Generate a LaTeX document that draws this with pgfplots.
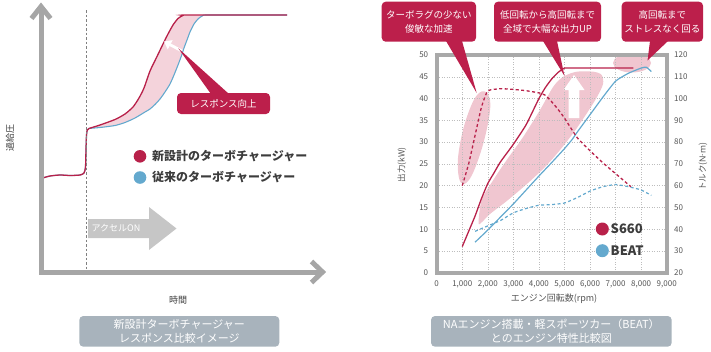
\documentclass[border=0pt]{standalone}
\usepackage{pgfplots}
\pgfplotsset{compat=1.18}
\usetikzlibrary{arrows.meta}
\usepackage{fontspec}
\setmainfont{Noto Sans CJK JP}
\newfontfamily\latinfont{Noto Sans}
\definecolor{cred}{HTML}{BC1F4B}
\definecolor{lred}{HTML}{B8214A}
\definecolor{cblue}{HTML}{64A9CE}
\definecolor{pinkA}{HTML}{F4D3DB}
\definecolor{pinkB}{HTML}{F0C6D0}
\definecolor{agray}{HTML}{A6A6A6}
\definecolor{fgray}{HTML}{A9A9A9}
\definecolor{ggray}{HTML}{BDBDBD}
\definecolor{capbox}{HTML}{A8B3BC}
\definecolor{tgray}{HTML}{555555}
\definecolor{dgray}{HTML}{3C3C3C}
\definecolor{arrgray}{HTML}{C6C6C6}
\pgfplotsset{pixframe/.style={at={(0pt,0pt)}, anchor=south west, scale only axis,
  width=711pt, height=351pt, xmin=0, xmax=711, ymin=0, ymax=351, y dir=reverse,
  hide axis, clip=false}}
\pgfplotsset{rbase/.style={at={(436.7pt,78.3pt)}, anchor=south west, scale only axis,
  width=230pt, height=217.7pt, xmin=0, xmax=9000,
  tick style={white, line width=0.8pt}, major tick length=2pt, tick align=outside,
  ticklabel style={font=\fontsize{8}{9}\selectfont, text=tgray},
  /pgf/number format/assume math mode=true, /pgf/number format/1000 sep={,},
  scaled x ticks=false, scaled y ticks=false}}
\begin{document}
\begin{tikzpicture}[x=1pt,y=1pt]
\path[use as bounding box] (0,0) rectangle (711,351);
% ---------- layer A ----------
\begin{axis}[pixframe]
% left panel: pink fill between curves
\addplot[draw=none, fill=pinkA, smooth, tension=0.4] coordinates {
 (89,128.5)(100,125)(115,119.5)(125,114)(133,107)(139,98)(144,88)(150,71)(157,56.5)(163,44)(168,34)(173,25)(178,18.5)(183,15.5)(188,15)
 (203,15.5)(198,19)(194,24)(190,32)(187,40)(184,48)(181,57)(178,65)(174,75)(170,84)(165,92)(160,99)(155,104.5)(150,109)(145,112)(135,118)(125,122.5)(115,125.5)(100,127.5)(89,128.5)} -- cycle;
\addplot[cblue, line width=1.1pt, smooth, tension=0.4] coordinates {
 (41.5,178.3)(50,176)(60,175)(70,175.5)(80,175)(84,173)(85.5,167)(86,150)(86.5,135)(87.3,130)(89,128.5)(100,127.5)(115,125.5)(125,122.5)(135,118)(145,112)(150,109)(155,104.5)(160,99)(165,92)(170,84)(174,75)(178,65)(181,57)(184,48)(187,40)(190,32)(194,24)(198,19)(203,15.5)(210,15)(287,15)};
\addplot[lred, line width=1.3pt, smooth, tension=0.4] coordinates {
 (41.5,178.3)(50,176)(60,175)(70,175.5)(80,175)(84,173)(85.5,167)(86,150)(86.5,135)(87.3,130)(89,128.5)(100,125)(115,119.5)(125,114)(133,107)(139,98)(144,88)(150,71)(157,56.5)(163,44)(168,34)(173,25)(178,18.5)(183,15.5)(188,15)(287,15)};
% dashed accelerator line
\draw[gray, line width=0.9pt, dash pattern=on 2.5pt off 2pt] (86,10) -- (86,270);
% axes arrows
\draw[agray, line width=5pt, line join=miter] (41,8) -- (41,272) -- (321,272);
\draw[agray, line width=5pt, line join=miter] (31.5,18.5) -- (41,6.5) -- (50.5,18.5);
\draw[agray, line width=5pt, line join=miter] (311.5,261.5) -- (322.5,272) -- (311.5,282.5);
% accel arrow
\fill[arrgray] (88,219) -- (149,219) -- (149,207) -- (176.5,228.5) -- (149,250) -- (149,238) -- (88,238) -- cycle;
\node[text=white, font=\fontsize{9}{10}\selectfont] at (116,228.5) {アクセルON};
% small white arrow
\draw[white, line width=2.8pt, -{Triangle[length=7pt,width=10pt]}] (182,51) -- (164,41.5);
% callout left
\fill[cred] (178.3,48.3) -- (211,94) -- (229,94) -- cycle;
\fill[cred, rounded corners=4pt] (177,93) rectangle (270,114);
\node[text=white, font=\fontsize{9.5}{11}\selectfont] at (223.5,103.5) {レスポンス向上};
% legend left
\fill[lred] (140,156.3) circle[radius=6.3pt];
\fill[cblue] (140,177.5) circle[radius=6.3pt];
\node[anchor=west, font=\fontsize{12}{14}\selectfont\bfseries, text=dgray, inner sep=0pt] at (152,156.3) {新設計のターボチャージャー};
\node[anchor=west, font=\fontsize{12}{14}\selectfont\bfseries, text=dgray, inner sep=0pt] at (152,177.5) {従来のターボチャージャー};
% labels
\node[rotate=90, font=\fontsize{9}{10}\selectfont, text=dgray] at (10,138) {過給圧};
\node[font=\fontsize{9}{10}\selectfont, text=dgray] at (178,300) {時間};
% captions
\fill[capbox, rounded corners=4pt] (79.3,316) rectangle (279.3,346.7);
\node[text=white, align=center, font=\fontsize{11}{14}\selectfont] at (179.3,331.3) {新設計ターボチャージャー\\レスポンス比較イメージ};
\fill[capbox, rounded corners=4pt] (431,316) rectangle (671.7,346.7);
\node[text=white, align=center, font=\fontsize{11}{14}\selectfont] at (551.3,331.3) {NAエンジン搭載・軽スポーツカー（BEAT）\\とのエンジン特性比較図};
% right panel pink highlights
\fill[pinkB] plot[smooth cycle, tension=0.6] coordinates {(485,91.5)(490,100)(489,118)(482,148)(472,175)(464,184)(459,178)(458,158)(463,130)(471,106)(478,94)};
\fill[pinkB] plot[smooth cycle, tension=0.5] coordinates {(478.5,223)(481.7,200)(493.3,180)(506.7,160)(523.3,136.7)(540,110)(553.3,86.7)(563.3,76.7)(576.7,71.7)(593.3,71.7)(601.7,75)(603,84)(597,97)(587,113)(574,132)(560,150)(545,167)(528,183)(508,200)(490,214)(482,222)};
\fill[pinkB] (632,63) ellipse [x radius=19pt, y radius=9.5pt];
\fill[white] (568.7,118) -- (568.7,90) -- (563.5,90) -- (574,75) -- (584.5,90) -- (579.3,90) -- (579.3,118) -- cycle;
\end{axis}
% ---------- power axis ----------
\begin{axis}[rbase, ymin=0, ymax=50, xtick={0,1000,...,9000}, ytick={0,5,...,50},
  grid=major, grid style={ggray, dash pattern=on 1pt off 1.5pt, line width=0.5pt},
  axis line style={fgray, line width=4pt},
  xticklabel style={yshift=-2pt}, yticklabel style={xshift=-3pt}]
\addplot[cblue, line width=1.2pt, smooth, tension=0.3] coordinates {
 (1500,7)(2000,9.8)(2500,12.8)(3000,15.8)(3500,19)(4000,22.2)(4500,25.3)(5000,28.5)(5300,30.6)(5500,32.3)(6000,36.3)(6500,40.3)(7000,44)(7500,45.8)(8000,47)(8200,47.2)(8400,46.2)};
\addplot[lred, line width=1.3pt, smooth, tension=0.3] coordinates {
 (1000,6)(1250,9.5)(1500,13)(1750,17)(2000,20.5)(2250,23)(2500,25.5)(3000,29.5)(3500,34)(4000,40)(4250,42.5)(4500,44.5)(4750,46)(5000,47)(5200,47)(7700,47)};
\end{axis}
% ---------- torque axis ----------
\begin{axis}[rbase, ymin=20, ymax=120, ytick={20,30,...,120}, axis y line*=right, axis x line=none,
  y axis line style={fgray, line width=4pt}, yticklabel style={xshift=2pt}]
\addplot[cblue, line width=1.2pt, dash pattern=on 3pt off 2.5pt, smooth, tension=0.3] coordinates {
 (1500,39)(2000,41.5)(2500,44)(3000,47.5)(3500,49.5)(4000,51)(4500,51.3)(5000,52)(5500,54.5)(6000,57.5)(6500,59.5)(7000,60.5)(7500,59.5)(8000,58)(8400,55.5)};
\addplot[lred, line width=1.3pt, dash pattern=on 3pt off 2.5pt, smooth, tension=0.3] coordinates {
 (1000,60)(1250,70)(1500,83)(1750,96)(2000,103.5)(2500,104.5)(3000,104.2)(3500,103.6)(4000,102.6)(4250,101.5)(4500,98.5)(4750,95)(5000,91)(5500,82)(6000,76)(6500,70.5)(7000,65.5)(7500,60.5)(7600,59.5)};
\end{axis}
% ---------- layer B ----------
\begin{axis}[pixframe]
\fill[cred] (446,41) -- (462,41) -- (476.7,93) -- cycle;
\fill[cred] (543,41) -- (557,41) -- (564.5,76) -- cycle;
\fill[cred] (650,41) -- (668,41) -- (647.5,60.5) -- cycle;
\fill[cred, rounded corners=4pt] (381.7,1.7) rectangle (476,41.7);
\fill[cred, rounded corners=4pt] (494,1.7) rectangle (601,41.7);
\fill[cred, rounded corners=4pt] (621.7,1.7) rectangle (703,41.7);
\node[text=white, align=center, font=\fontsize{9.5}{14.3}\selectfont] at (428.8,22) {ターボラグの少ない\\俊敏な加速};
\node[text=white, align=center, font=\fontsize{9.5}{14.3}\selectfont] at (547.5,22) {低回転から高回転まで\\全域で大幅な出力UP};
\node[text=white, align=center, font=\fontsize{9.5}{14.3}\selectfont] at (662.3,22) {高回転まで\\ストレスなく回る};
\fill[lred] (602.3,229) circle[radius=6.5pt];
\fill[cblue] (602.3,250.7) circle[radius=6.5pt];
\node[anchor=west, inner sep=0pt, font=\fontsize{13}{15}\selectfont\bfseries, text=dgray] at (610.5,229) {S660};
\node[anchor=west, inner sep=0pt, font=\fontsize{13}{15}\selectfont\bfseries, text=dgray] at (610.5,250.7) {BEAT};
\node[rotate=90, font=\fontsize{8.5}{10}\selectfont, text=tgray] at (402,165) {出力(kW)};
\node[rotate=90, font=\fontsize{8.5}{10}\selectfont, text=tgray] at (703,167) {トルク({\latinfont N·m})};
\node[font=\fontsize{9}{10}\selectfont, text=tgray] at (554,299) {エンジン回転数(rpm)};
\end{axis}
\end{tikzpicture}
\end{document}
